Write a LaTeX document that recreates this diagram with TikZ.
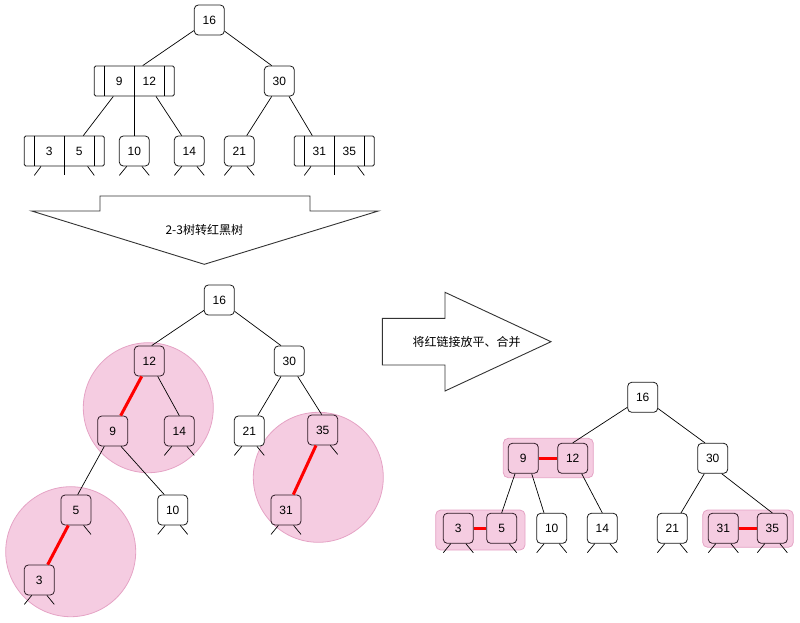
\documentclass[tikz,border=0pt]{standalone}
\usepackage{fontspec}
\setmainfont{Liberation Sans}
\newfontfamily\cjk{Noto Sans CJK SC}
\definecolor{pinkfill}{HTML}{F5CCE1}
\definecolor{pinkline}{HTML}{E5A3C5}
\definecolor{nodeline}{HTML}{1A1A1A}
\definecolor{inkline}{HTML}{2E1A25}
\newcommand\bothstubs[1]{\draw[edge] ([xshift=-7.6]#1.south) -- ++(-7.4,9); \draw[edge] ([xshift=7.6]#1.south) -- ++(7.4,9);}
\newcommand\rightstub[1]{\draw[edge] ([xshift=7.6]#1.south) -- ++(7.4,9);}
\newcommand\tristubs[1]{\draw[edge] ([xshift=-23.3]#1.south) -- ++(-6.7,9); \draw[edge] (#1.south) -- ++(0,9); \draw[edge] ([xshift=23.3]#1.south) -- ++(6.7,9);}
\newcommand\trilines[1]{\draw[edge] ([xshift=-30]#1.north) -- ([xshift=-30]#1.south); \draw[edge] (#1.north) -- (#1.south); \draw[edge] ([xshift=30]#1.north) -- ([xshift=30]#1.south);}
\begin{document}
\begin{tikzpicture}[x=1pt,y=-1pt, font=\fontsize{12}{14}\selectfont,
  key/.style={draw=nodeline, fill=white, rounded corners=4, minimum width=30, minimum height=30, inner sep=0, line width=0.8},
  pkey/.style={key, fill=pinkfill, draw=inkline},
  tri/.style={draw=nodeline, fill=white, rounded corners=1.5, minimum width=80, minimum height=30, inner sep=0, line width=0.8},
  edge/.style={line width=0.7, black},
  redlink/.style={line width=3, red},
  blob/.style={fill=pinkfill, draw=pinkline, line width=0.8},
  bigarrow/.style={draw=black!80, fill=white, line width=0.9},
  lbl/.style={inner sep=0},
]
\useasboundingbox (0,0) rectangle (800,622);

% ---------------- top 2-3 tree ----------------
\node[key] (t16) at (209.3,20) {16};
\node[tri] (t912) at (134.3,81) {};
\trilines{t912}
\node[lbl] (t912a) at ([xshift=-15]t912.center) {9};
\node[lbl] (t912b) at ([xshift=15]t912.center) {12};
\node[key] (t30) at (279.3,81) {30};
\node[tri] (t35) at (64.3,151) {};
\trilines{t35}
\node[lbl] (t35a) at ([xshift=-15]t35.center) {3};
\node[lbl] (t35b) at ([xshift=15]t35.center) {5};
\node[key] (t10) at (134.3,151) {10};
\node[key] (t14) at (189.3,151) {14};
\node[key] (t21) at (239.3,151) {21};
\node[tri] (t3135) at (334.3,151) {};
\trilines{t3135}
\node[lbl] (t3135a) at ([xshift=-15]t3135.center) {31};
\node[lbl] (t3135b) at ([xshift=15]t3135.center) {35};

\draw[edge] (t16) -- ([xshift=8.4]t912.north);
\draw[edge] (t16) -- ([xshift=-7.6]t30.north);
\draw[edge] ([xshift=-21]t912.south) -- ([xshift=19]t35.north);
\draw[edge] (t912.south) -- (t10.north);
\draw[edge] ([xshift=21.7]t912.south) -- ([xshift=-7.6]t14.north);
\draw[edge] ([xshift=-7.6]t30.south) -- ([xshift=7.4]t21.north);
\draw[edge] ([xshift=9.7]t30.south) -- ([xshift=-22]t3135.north);
\tristubs{t35}
\bothstubs{t10}
\bothstubs{t14}
\bothstubs{t21}
\tristubs{t3135}

% ---------------- down arrow ----------------
\draw[bigarrow] (100,196) -- (310,196) -- (310,211) -- (378.3,211) -- (204.3,264.3) -- (31.7,211) -- (100,211) -- cycle;
\node[lbl] (lab1) at (204.3,230) {\cjk 2-3树转红黑树};

% ---------------- right arrow ----------------
\draw[bigarrow] (382.3,318.3) -- (445,318.3) -- (445,292.3) -- (551,341.7) -- (445,391) -- (445,365) -- (382.3,365) -- cycle;
\node[lbl] (lab2) at (466.7,341.7) {\cjk 将红链接放平、合并};

% ---------------- middle red-black tree ----------------
\draw[blob] (148.3,407.7) circle[radius=65];
\draw[blob] (70.7,551.7) circle[radius=65];
\draw[blob] (318.3,477.3) circle[radius=65];

\node[key] (m16) at (219.3,300) {16};
\node[pkey] (m12) at (149.3,361) {12};
\node[key] (m30) at (289.3,361) {30};
\node[pkey] (m9) at (112.7,431) {9};
\node[pkey] (m14) at (179.3,431) {14};
\node[key] (m21) at (249.3,431) {21};
\node[pkey] (m35) at (322.7,430) {35};
\node[pkey] (m5) at (76,510) {5};
\node[key] (m10) at (172.7,510) {10};
\node[pkey] (m31) at (286,510) {31};
\node[pkey] (m3) at (39.3,580) {3};

\draw[edge] (m16) -- ([xshift=2.4]m12.north);
\draw[edge] (m16) -- ([xshift=-8.3]m30.north);
\draw[redlink] ([xshift=-7.6]m12.south) -- ([xshift=8]m9.north);
\draw[edge] ([xshift=8.4]m12.south) -- (m14.north);
\draw[edge] ([xshift=-8.3]m30.south) -- ([xshift=8.4]m21.north);
\draw[edge] ([xshift=8.4]m30.south) -- ([xshift=-1]m35.north);
\draw[edge] ([xshift=-8.4]m9.south) -- ([xshift=1.7]m5.north);
\draw[edge] ([xshift=8.3]m9.south) -- ([xshift=-8.4]m10.north);
\draw[redlink] ([xshift=-7.7]m5.south) -- ([xshift=8.4]m3.north);
\draw[redlink] ([xshift=-6.7]m35.south) -- ([xshift=7.3]m31.north);
\bothstubs{m14}
\bothstubs{m21}
\rightstub{m35}
\rightstub{m5}
\bothstubs{m10}
\bothstubs{m31}
\bothstubs{m3}

% ---------------- right flattened tree ----------------
\draw[blob, rounded corners=5] (503.3,438.3) rectangle (593.3,477.7);
\draw[blob, rounded corners=5] (435.7,510) rectangle (525,550);
\draw[blob, rounded corners=5] (702.7,510) rectangle (793.3,547.3);

\node[key] (r16) at (642.7,397.3) {16};
\node[pkey] (r9) at (523.3,458.3) {9};
\node[pkey] (r12) at (572.7,458.3) {12};
\node[key] (r30) at (712.7,458.3) {30};
\node[pkey] (r3) at (458.3,528.3) {3};
\node[pkey] (r5) at (501.7,528.3) {5};
\node[key] (r10) at (551.7,528.3) {10};
\node[key] (r14) at (602.3,528.3) {14};
\node[key] (r21) at (672.3,528.3) {21};
\node[pkey] (r31) at (723.3,528.3) {31};
\node[pkey] (r35) at (772.3,528.3) {35};

\draw[edge] (r16) -- (r12.north);
\draw[edge] (r16) -- ([xshift=-7.7]r30.north);
\draw[edge] ([xshift=-8.3]r9.south) -- (r5.north);
\draw[edge] ([xshift=8.4]r9.south) -- ([xshift=-7.7]r10.north);
\draw[edge] ([xshift=9]r12.south) -- (r14.north);
\draw[edge] ([xshift=-8.4]r30.south) -- ([xshift=8.7]r21.north);
\draw[edge] ([xshift=9]r30.south) -- (r35.north);
\draw[redlink] (r9) -- (r12);
\draw[redlink] (r3) -- (r5);
\draw[redlink] (r31) -- (r35);
\bothstubs{r3}
\rightstub{r5}
\bothstubs{r10}
\bothstubs{r14}
\bothstubs{r21}
\bothstubs{r31}
\bothstubs{r35}
\end{tikzpicture}
\end{document}
